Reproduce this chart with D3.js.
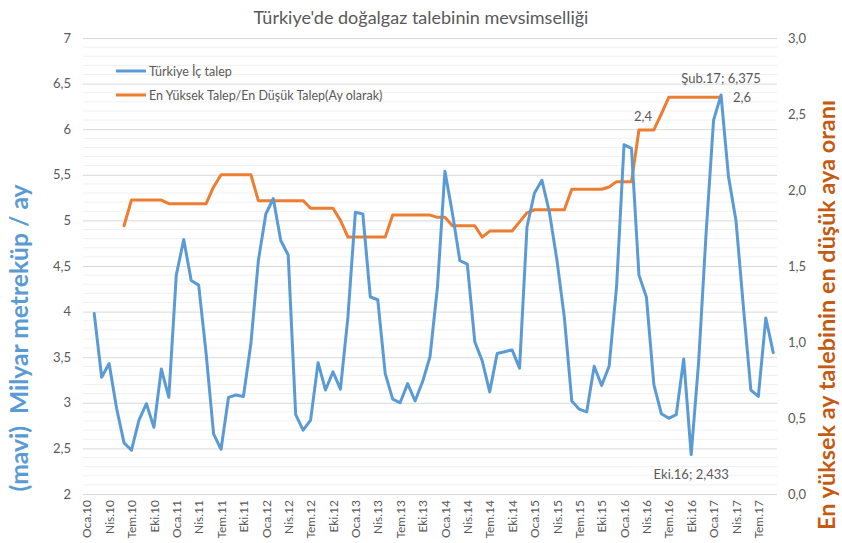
<!DOCTYPE html>
<html>
<head>
<meta charset="utf-8">
<script src="https://cdn.jsdelivr.net/npm/d3@7"></script>
<style>
  html, body { margin: 0; padding: 0; background: #ffffff; }
  svg { display: block; font-family: Lato, "Open Sans", sans-serif; }
</style>
</head>
<body>
<svg id="chart" width="842" height="543"></svg>
<script>
// ---------------- DATA ----------------
const categories = [
  "Oca.10","Şub.10","Mar.10","Nis.10","May.10","Haz.10","Tem.10","Ağu.10","Eyl.10","Eki.10","Kas.10","Ara.10",
  "Oca.11","Şub.11","Mar.11","Nis.11","May.11","Haz.11","Tem.11","Ağu.11","Eyl.11","Eki.11","Kas.11","Ara.11",
  "Oca.12","Şub.12","Mar.12","Nis.12","May.12","Haz.12","Tem.12","Ağu.12","Eyl.12","Eki.12","Kas.12","Ara.12",
  "Oca.13","Şub.13","Mar.13","Nis.13","May.13","Haz.13","Tem.13","Ağu.13","Eyl.13","Eki.13","Kas.13","Ara.13",
  "Oca.14","Şub.14","Mar.14","Nis.14","May.14","Haz.14","Tem.14","Ağu.14","Eyl.14","Eki.14","Kas.14","Ara.14",
  "Oca.15","Şub.15","Mar.15","Nis.15","May.15","Haz.15","Tem.15","Ağu.15","Eyl.15","Eki.15","Kas.15","Ara.15",
  "Oca.16","Şub.16","Mar.16","Nis.16","May.16","Haz.16","Tem.16","Ağu.16","Eyl.16","Eki.16","Kas.16","Ara.16",
  "Oca.17","Şub.17","Mar.17","Nis.17","May.17","Haz.17","Tem.17","Ağu.17","Eyl.17"
];

// Türkiye İç talep (milyar m3 / ay) – left axis
const demand = [
  null, 3.98, 3.28, 3.43, 2.94, 2.56, 2.48, 2.81, 2.99, 2.73, 3.37, 3.06,
  4.40, 4.79, 4.34, 4.29, 3.54, 2.66, 2.49, 3.06, 3.085, 3.07, 3.65, 4.56,
  5.07, 5.24, 4.78, 4.62, 2.87, 2.70, 2.81, 3.44, 3.14, 3.34, 3.15, 3.94,
  5.09, 5.07, 4.16, 4.13, 3.32, 3.04, 3.00, 3.21, 3.02, 3.23, 3.505, 4.27,
  5.54, 5.08, 4.56, 4.52, 3.67, 3.46, 3.12, 3.54, 3.56, 3.58, 3.38, 4.93,
  5.30, 5.44, 5.09, 4.57, 3.94, 3.02, 2.93, 2.90, 3.40, 3.19, 3.40, 4.27,
  5.83, 5.79, 4.40, 4.16, 3.20, 2.88, 2.83, 2.87, 3.48, 2.433, 3.45, 4.86,
  6.10, 6.375, 5.48, 5.00, 4.05, 3.14, 3.07, 3.93, 3.55
];

// En Yüksek Talep / En Düşük Talep (ay olarak) – right axis
const ratio = [
  null, null, null, null, null, 1.765, 1.934, 1.934, 1.934, 1.934, 1.934, 1.91,
  1.91, 1.91, 1.91, 1.91, 1.91, 2.02, 2.10, 2.10, 2.10, 2.10, 2.10, 1.93,
  1.93, 1.93, 1.93, 1.93, 1.93, 1.93, 1.88, 1.88, 1.88, 1.88, 1.80, 1.69,
  1.69, 1.69, 1.69, 1.69, 1.69, 1.835, 1.835, 1.835, 1.835, 1.835, 1.835, 1.82,
  1.82, 1.765, 1.765, 1.765, 1.765, 1.69, 1.73, 1.73, 1.73, 1.73, 1.79, 1.85,
  1.87, 1.87, 1.87, 1.87, 1.87, 2.005, 2.005, 2.005, 2.005, 2.005, 2.02, 2.055,
  2.055, 2.055, 2.395, 2.395, 2.395, 2.50, 2.61, 2.61, 2.61, 2.61, 2.61, 2.61,
  2.61, 2.61, null, null, null, null, null, null, null
];

const leftTicks = [2, 2.5, 3, 3.5, 4, 4.5, 5, 5.5, 6, 6.5, 7];
const rightTicks = [0, 0.5, 1, 1.5, 2, 2.5, 3];
const seriesNames = ["Türkiye İç talep", "En Yüksek Talep/En Düşük Talep(Ay olarak)"];
const titleText = "Türkiye'de doğalgaz talebinin mevsimselliği";
const leftTitle = "(mavi)  Milyar metreküp / ay";
const rightTitle = "En yüksek ay talebinin en düşük aya oranı";
const maxLabel = { index: 85, text: "Şub.17; 6,375" };
const minLabel = { index: 81, text: "Eki.16; 2,433" };
const ratioLabels = [ { index: 74, text: "2,4" }, { index: 85, text: "2,6" } ];

// ---------------- LAYOUT ----------------
const plot = { left: 83, right: 777, top: 38, bottom: 494 };
const BLUE = "#5B9BD5", ORANGE = "#ED7D31", TXT = "#595959";
const FONT = "Lato, sans-serif";

const svg = d3.select("#chart");

// fit a text element's font size so that its rendered length equals target
function fitLength(sel, target) {
  const node = sel.node();
  const base = parseFloat(sel.style("font-size"));
  const len = node.getComputedTextLength();
  if (len > 0) sel.style("font-size", (base * target / len).toFixed(2) + "px");
  return sel;
}

const x = d3.scalePoint().domain(categories).range([plot.left, plot.right]).padding(0.5);
const yL = d3.scaleLinear().domain([2, 7]).range([plot.bottom, plot.top]);
const yR = d3.scaleLinear().domain([0, 3]).range([plot.bottom, plot.top]);

// minor gridlines (every 0.1)
const minor = d3.range(20, 71).map(v => v / 10).filter(v => Math.round(v * 10) % 5 !== 0);
svg.append("g").selectAll("line").data(minor).join("line")
  .attr("x1", plot.left).attr("x2", plot.right)
  .attr("y1", d => yL(d)).attr("y2", d => yL(d))
  .attr("stroke", "#f0f0f0").attr("stroke-width", 1);

// left axis with major gridlines
const fmtL = d => String(d).replace(".", ",");
const gL = svg.append("g").attr("transform", `translate(${plot.left},0)`)
  .call(d3.axisLeft(yL).tickValues(leftTicks).tickFormat(fmtL)
        .tickSize(-(plot.right - plot.left)).tickPadding(12));
gL.select(".domain").remove();
gL.selectAll(".tick line").attr("stroke", "#d9d9d9").attr("stroke-width", 1);
gL.selectAll(".tick text").attr("fill", TXT).style("font-size", "13px").style("font-family", FONT);

// right axis
const fmtR = d => d.toFixed(1).replace(".", ",");
const gR = svg.append("g").attr("transform", `translate(${plot.right},0)`)
  .call(d3.axisRight(yR).tickValues(rightTicks).tickFormat(fmtR).tickSize(0).tickPadding(11));
gR.select(".domain").remove();
gR.selectAll(".tick text").attr("fill", TXT).style("font-size", "13px").style("font-family", FONT);

// bottom axis (labels every 3 months)
const shown = categories.filter((c, i) => i % 3 === 0);
const gX = svg.append("g").attr("transform", `translate(0,${plot.bottom})`)
  .call(d3.axisBottom(x).tickValues(shown).tickSize(0).tickPadding(0));
gX.select(".domain").remove();
gX.selectAll(".tick text")
  .attr("fill", TXT).style("font-size", "12px").style("font-family", FONT)
  .attr("text-anchor", "end").attr("transform", "translate(0,6) rotate(-90)")
  .attr("x", 0).attr("y", 0).attr("dy", "0.35em");

// lines
const lineL = d3.line().defined(d => d.v != null).x(d => x(d.c)).y(d => yL(d.v));
const lineR = d3.line().defined(d => d.v != null).x(d => x(d.c)).y(d => yR(d.v));
const dDemand = categories.map((c, i) => ({ c, v: demand[i] }));
const dRatio = categories.map((c, i) => ({ c, v: ratio[i] }));

svg.append("path").datum(dRatio).attr("d", lineR)
  .attr("fill", "none").attr("stroke", ORANGE).attr("stroke-width", 3)
  .attr("stroke-linejoin", "round").attr("stroke-linecap", "round");
svg.append("path").datum(dDemand).attr("d", lineL)
  .attr("fill", "none").attr("stroke", BLUE).attr("stroke-width", 3)
  .attr("stroke-linejoin", "round").attr("stroke-linecap", "round");

// data labels
const lblStyle = sel => sel.attr("fill", TXT).style("font-size", "13px").style("font-family", FONT);
svg.append("text").text(maxLabel.text).call(lblStyle)
  .attr("text-anchor", "middle")
  .attr("x", x(categories[maxLabel.index])).attr("y", yL(demand[maxLabel.index]) - 12);
svg.append("text").text(minLabel.text).call(lblStyle)
  .attr("text-anchor", "middle")
  .attr("x", x(categories[minLabel.index])).attr("y", yL(demand[minLabel.index]) + 24);
svg.append("text").text(ratioLabels[0].text).call(lblStyle)
  .attr("text-anchor", "middle")
  .attr("x", x(categories[ratioLabels[0].index]) + 4).attr("y", yR(ratio[ratioLabels[0].index]) - 9);
svg.append("text").text(ratioLabels[1].text).call(lblStyle)
  .attr("text-anchor", "start")
  .attr("x", x(categories[ratioLabels[1].index]) + 12).attr("y", yR(ratio[ratioLabels[1].index]) + 5);

// legend
const legend = svg.append("g");
[BLUE, ORANGE].forEach((col, i) => {
  const ly = 71 + i * 24;
  legend.append("line").attr("x1", 116).attr("x2", 146).attr("y1", ly).attr("y2", ly)
    .attr("stroke", col).attr("stroke-width", 3);
  legend.append("text").text(seriesNames[i]).attr("x", 149).attr("y", ly + 4.5)
    .attr("fill", TXT).style("font-size", "12.5px").style("font-family", FONT);
});

// title
svg.append("text").text(titleText).attr("x", 421).attr("y", 24)
  .attr("text-anchor", "middle").attr("fill", TXT)
  .style("font-size", "18px").style("font-family", FONT)
  .call(fitLength, 335);

// axis titles
svg.append("text").text(leftTitle)
  .attr("transform", `translate(28,${338}) rotate(-90)`)
  .attr("text-anchor", "middle").attr("fill", BLUE)
  .style("white-space", "pre")
  .style("font-size", "18px").style("font-weight", "bold").style("font-family", FONT)
  .call(fitLength, 307);
svg.append("text").text(rightTitle)
  .attr("transform", `translate(835,${315}) rotate(-90)`)
  .attr("text-anchor", "middle").attr("fill", "#C55A11")
  .style("font-size", "20px").style("font-weight", "bold").style("font-family", FONT)
  .call(fitLength, 430);
</script>
</body>
</html>
